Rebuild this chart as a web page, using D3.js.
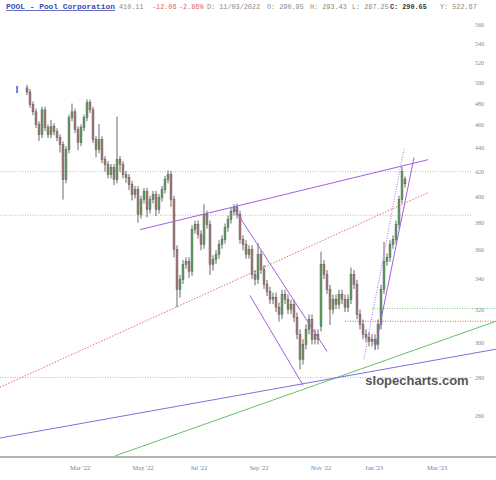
<!doctype html>
<html>
<head>
<meta charset="utf-8">
<script src="https://cdn.jsdelivr.net/npm/d3@7"></script>
<style>
  body { margin: 0; background: #fff; }
  svg { display: block; }
</style>
</head>
<body>
<svg width="496" height="480"></svg>
<script>
// daily-ish candles
var open = [495.0,491.1,479.0,472.3,460.5,451.6,474.1,457.8,451.6,458.7,454.2,448.9,442.8,413.5,438.5,466.8,472.3,456.0,444.5,457.8,
  466.8,480.8,474.1,447.2,438.5,447.2,430.0,425.8,417.5,423.3,413.5,430.0,425.8,417.5,415.1,409.5,401.5,405.4,386.1,397.6,
  403.8,389.9,397.6,401.5,389.9,399.1,405.4,413.5,417.5,397.6,360.5,333.4,340.0,350.1,352.1,345.4,374.9,378.6,371.3,364.1,
  386.1,378.6,350.1,353.5,357.0,364.1,367.7,376.4,382.4,388.4,391.5,386.1,367.7,364.1,357.0,360.5,343.3,340.0,357.0,346.7,
  336.7,332.1,327.0,328.3,321.9,317.5,330.2,327.0,320.6,323.8,315.6,305.3,290.7,299.4,308.3,314.4,302.3,305.3,310.0,350.1,
  343.3,333.4,320.6,327.0,323.8,330.2,327.0,321.9,327.0,343.3,336.7,317.5,311.3,305.3,303.5,301.1,302.3,299.4,311.3,333.4,
  352.1,354.9,364.1,367.7,378.6,397.6,414.0];
var close = [491.1,479.0,472.3,460.5,451.6,474.1,457.8,451.6,458.7,454.2,448.9,442.8,413.5,438.5,466.8,472.3,456.0,444.5,457.8,466.8,
  480.8,474.1,447.2,438.5,447.2,430.0,425.8,417.5,423.3,413.5,430.0,425.8,417.5,415.1,409.5,401.5,405.4,386.1,397.6,403.8,
  389.9,397.6,401.5,389.9,399.1,405.4,413.5,417.5,397.6,360.5,333.4,340.0,350.1,352.1,345.4,374.9,378.6,371.3,364.1,386.1,
  378.6,350.1,353.5,357.0,364.1,367.7,376.4,382.4,388.4,391.5,386.1,367.7,364.1,357.0,360.5,343.3,340.0,357.0,346.7,336.7,
  332.1,327.0,328.3,321.9,317.5,330.2,327.0,320.6,323.8,315.6,305.3,290.7,299.4,308.3,314.4,302.3,305.3,302.3,350.1,343.3,
  333.4,320.6,327.0,323.8,330.2,327.0,321.9,327.0,343.3,336.7,317.5,311.3,305.3,303.5,301.1,302.3,299.4,311.3,333.4,352.1,
  354.9,364.1,367.7,378.6,397.6,420.0,410.1];
var high = [498.0,494.1,482.0,475.3,463.5,477.1,477.1,460.8,465.0,461.7,457.2,451.9,445.8,441.5,469.8,480.0,475.3,459.0,460.8,469.8,
  484.0,483.8,477.1,450.2,461.0,450.2,433.0,428.8,426.3,426.3,468.0,433.0,428.8,420.5,418.1,412.5,408.4,408.4,400.6,406.8,
  406.8,400.6,404.5,404.5,402.1,408.4,416.5,421.0,420.5,400.6,363.5,343.0,353.1,355.1,355.1,377.9,381.6,381.6,374.3,394.0,
  389.1,381.6,356.5,360.0,367.1,370.7,379.4,385.4,391.4,394.0,394.5,389.1,370.7,367.1,363.5,363.5,346.3,365.0,360.0,349.7,
  339.7,335.1,331.3,331.3,324.9,333.2,333.2,330.0,326.8,326.8,318.6,308.3,302.4,311.3,317.4,317.4,308.3,308.3,359.0,353.1,
  346.3,336.4,330.0,330.0,333.2,333.2,330.0,330.0,348.0,346.3,339.7,320.5,314.3,308.3,306.5,305.3,305.3,314.3,336.4,366.0,
  357.9,367.1,370.7,381.6,400.6,424.0,416.0];
var low = [488.0,476.0,469.3,457.5,446.0,448.6,454.8,448.6,448.6,451.2,445.9,436.0,397.6,410.5,435.5,463.8,453.0,438.0,441.5,454.8,
  463.8,471.1,444.2,432.0,435.5,427.0,420.0,414.5,414.5,409.0,410.5,420.0,414.5,411.0,405.0,397.0,398.5,380.0,383.1,394.6,
  384.0,386.9,394.6,385.0,386.9,396.1,402.4,410.5,392.0,355.0,322.0,328.0,337.0,347.1,341.0,342.4,371.9,368.3,360.0,361.1,
  375.6,343.0,346.0,350.5,354.0,361.1,364.7,373.4,379.4,385.4,383.1,364.7,360.0,354.0,354.0,340.3,336.0,337.0,343.7,333.7,
  329.1,324.0,324.0,318.9,313.0,314.5,324.0,317.6,317.6,312.6,302.3,285.0,287.7,296.4,305.3,299.3,299.3,299.3,307.0,340.3,
  330.4,311.0,317.6,320.8,320.8,324.0,318.9,318.9,324.0,333.7,314.5,308.3,302.3,300.5,298.1,298.1,296.0,296.4,308.3,330.4,
  349.1,351.9,361.1,364.7,375.6,394.6,407.0];

var yTicks = [260,280,300,320,340,360,380,400,420,440,460,480,500,520,540,560];
var monthLabels = ["Mar '22","May '22","Jul '22","Sep '22","Nov '22","Jan '23","Mar '23"];
var monthIdx = [17.7, 38.7, 57.3, 77.3, 98, 115.7, 136.7];

// drawn studies: [idx, price] endpoints
var resistance = [[37.7, 374.9], [133.7, 430.0]];
var chanTop = [[68.7, 391.9], [100, 295.3]];
var chanBottom = [[74.3, 329.5], [92, 276.3]];
var riseSolid = [[116, 296.5], [129, 431.7]];
var riseDotted = [[112.3, 290.7], [125.7, 440.2]];
var redDiag = [[-9, 275.2], [133.7, 403.1]];
var greenDiag = [[29.3, 240.5], [156.3, 313.2]];
var blueDiag = [[-9, 249.1], [156.3, 296.5]];
var grayLevels = [420.0, 385.6, 280.5];
var greenLevel = [[115, 321.2], [156.3, 321.2]];
var redLevel = [[106, 313.2], [156.3, 313.2]];

var svg = d3.select('svg');
var width = 496, bottom = 457;

var x = d3.scaleLinear().domain([0, close.length - 1]).range([27, 405]);
var y = d3.scaleLog().domain([560, 240]).range([25, bottom]);

var line = d3.line()
  .x(function(d) { return x(d[0]); })
  .y(function(d) { return y(d[1]); });

// horizontal gray dotted levels
svg.append('g').selectAll('line')
  .data(grayLevels)
  .enter().append('line')
  .attr('x1', 0).attr('x2', 472)
  .attr('y1', function(d) { return y(d); })
  .attr('y2', function(d) { return y(d); })
  .attr('stroke', '#aaa')
  .attr('stroke-width', 0.8)
  .attr('stroke-dasharray', '1,1.5');

function study(pts, color, dash, w) {
  svg.append('path')
    .datum(pts)
    .attr('fill', 'none')
    .attr('stroke', color)
    .attr('stroke-width', w || 1)
    .attr('stroke-dasharray', dash || null)
    .attr('d', line);
}
study(redDiag, '#e8736c', '1.5,1.5');
study(greenLevel, '#7ccf7c', '1,1.5');
study(redLevel, '#e85a5a', '1,1.5');
study(greenDiag, '#66c266');
study(blueDiag, '#7b70e0');

// candles
var c = svg.append('g').selectAll('g')
  .data(close)
  .enter().append('g');
c.append('line')
  .attr('x1', function(d, i) { return x(i); })
  .attr('x2', function(d, i) { return x(i); })
  .attr('y1', function(d, i) { return y(high[i]); })
  .attr('y2', function(d, i) { return y(low[i]); })
  .attr('stroke', '#444')
  .attr('stroke-width', 0.8);
c.append('rect')
  .attr('x', function(d, i) { return x(i) - 1; })
  .attr('width', 2)
  .attr('y', function(d, i) { return y(Math.max(open[i], d)); })
  .attr('height', function(d, i) { return Math.max(1, Math.abs(y(open[i]) - y(d))); })
  .attr('fill', function(d, i) { return d >= open[i] ? '#62a565' : '#ad7d7a'; })
  .attr('stroke', '#3a3a3a')
  .attr('stroke-width', 0.35);

// tiny marker before first candle
svg.append('rect')
  .attr('x', x(-3.3) - 1).attr('width', 2)
  .attr('y', y(497)).attr('height', y(490) - y(497))
  .attr('fill', '#6f7fe0');

study(resistance, '#a45ee0');
study(chanTop, '#a45ee0');
study(chanBottom, '#a45ee0');
study(riseSolid, '#a45ee0');
study(riseDotted, '#b070e6', '1,1.5');

// y labels
svg.append('g').selectAll('text')
  .data(yTicks)
  .enter().append('text')
  .attr('x', 475)
  .attr('y', function(d) { return y(d) + 2; })
  .attr('font-family', 'Liberation Serif, serif')
  .attr('font-size', 6)
  .attr('fill', '#7a89aa')
  .text(function(d) { return d; });

// bottom frame + month labels
svg.append('line')
  .attr('x1', 0).attr('x2', width)
  .attr('y1', bottom).attr('y2', bottom)
  .attr('stroke', '#9a9a9a').attr('stroke-width', 1.5);

svg.append('g').selectAll('text')
  .data(monthLabels)
  .enter().append('text')
  .attr('x', function(d, i) { return x(monthIdx[i]); })
  .attr('y', 470)
  .attr('text-anchor', 'middle')
  .attr('font-family', 'Liberation Serif, serif')
  .attr('font-size', 6.5)
  .attr('fill', '#6a7fa6')
  .text(function(d) { return d; });

// watermark
svg.append('text')
  .attr('x', 417).attr('y', 385)
  .attr('text-anchor', 'middle')
  .attr('font-family', 'Liberation Sans, Arial, sans-serif')
  .attr('font-weight', 'bold')
  .attr('font-size', 13)
  .attr('fill', '#555')
  .text('slopecharts.com');

// header
var head = [
  {t: 'POOL - Pool Corporation', x: 6, c: '#3c4bb4', b: true, u: true, s: 7.9},
  {t: '410.11', x: 119, c: '#888'},
  {t: '-12.06', x: 152, c: '#e06060'},
  {t: '-2.86%', x: 179, c: '#e06060'},
  {t: 'D: 11/03/2022', x: 207, c: '#888'},
  {t: 'O: 290.95', x: 267, c: '#888'},
  {t: 'H: 293.43', x: 310, c: '#888'},
  {t: 'L: 287.25', x: 352, c: '#888'},
  {t: 'C: 290.65', x: 390, c: '#333', b: true},
  {t: 'Y: 522.67', x: 440, c: '#888'}
];
svg.append('g').selectAll('text')
  .data(head)
  .enter().append('text')
  .attr('x', function(d) { return d.x; })
  .attr('y', 9)
  .attr('font-family', 'Liberation Mono, Courier New, monospace')
  .attr('font-size', function(d) { return d.s || 6.8; })
  .attr('font-weight', function(d) { return d.b ? 'bold' : 'normal'; })
  .attr('text-decoration', function(d) { return d.u ? 'underline' : null; })
  .attr('fill', function(d) { return d.c; })
  .text(function(d) { return d.t; });
</script>
</body>
</html>
